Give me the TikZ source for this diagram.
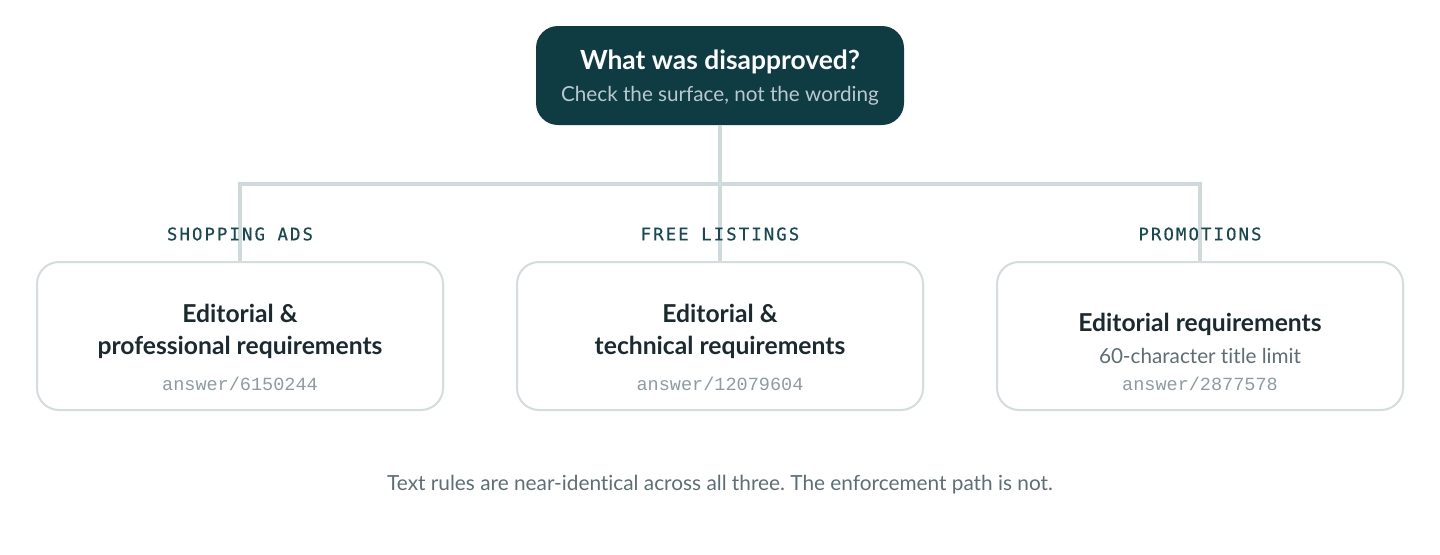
\documentclass[tikz,border=0pt]{standalone}
\usepackage{fontspec}
\setmainfont[Ligatures=NoCommon]{Lato}
\newfontfamily\labelfont[LetterSpace=12,FakeBold=0.6]{DejaVu Sans Mono}
\newfontfamily\ansfont{Liberation Mono}
\definecolor{topfill}{HTML}{0F3B43}
\definecolor{subtop}{HTML}{B8CACD}
\definecolor{labcol}{HTML}{174A52}
\definecolor{bodycol}{HTML}{1B2A30}
\definecolor{graycol}{HTML}{5D6E74}
\definecolor{anscol}{HTML}{8D9CA2}
\definecolor{linecol}{HTML}{CFDADD}
\definecolor{bordercol}{HTML}{D3DCDE}
\frenchspacing
\begin{document}
\begin{tikzpicture}[x=0.75pt,y=-0.75pt,
  topbox/.style={fill=topfill,draw=none,rounded corners=16.5pt,minimum width=276pt,minimum height=74.25pt,inner sep=0pt},
  card/.style={fill=white,draw=bordercol,line width=1.5pt,rounded corners=16.5pt,minimum width=304.5pt,minimum height=111pt,inner sep=0pt},
  conn/.style={draw=linecol,line width=2.3pt},
  ttl/.style={text=white,font=\fontsize{19.8}{24}\selectfont\bfseries,inner sep=0pt},
  subttl/.style={text=subtop,font=\fontsize{15.5}{18}\selectfont,inner sep=0pt},
  lab/.style={text=labcol,font=\labelfont\fontsize{13}{15}\selectfont,inner sep=0pt},
  body/.style={text=bodycol,font=\fontsize{18.5}{22}\selectfont\bfseries,inner sep=0pt},
  note/.style={text=graycol,font=\fontsize{15.5}{18}\selectfont,inner sep=0pt},
  ans/.style={text=anscol,font=\ansfont\fontsize{13.9}{16}\selectfont,inner sep=0pt},
  foot/.style={text=graycol,font=\fontsize{15.6}{18}\selectfont,inner sep=0pt}]
\useasboundingbox (0,0) rectangle (1440,554);
% cards and top box
\node[topbox] (top) at (720,75.5) {};
\node[card] (b1) at (240,336) {};
\node[card] (b2) at (720,336) {};
\node[card] (b3) at (1200,336) {};
% connectors
\coordinate (j) at (720,184);
\draw[conn] (top.south) -- (j);
\draw[conn] (b1.north) |- (j) -| (b3.north);
\draw[conn] (j) -- (b2.north);
% top texts
\node[ttl] (t1) at (720,61.5) {What was disapproved?};
\node[subttl] (t2) at (720,95.5) {Check the surface, not the wording};
% labels
\node[lab] (l1) at (240,234) {SHOPPING ADS};
\node[lab] (l2) at (720,234) {FREE LISTINGS};
\node[lab] (l3) at (1200,234) {PROMOTIONS};
% card 1
\node[body] (c1a) at (240,313.5) {Editorial \&};
\node[body] (c1b) at (240,347.5) {professional requirements};
\node[ans] (c1c) at (240,384) {answer/6150244};
% card 2
\node[body] (c2a) at (720,313.5) {Editorial \&};
\node[body] (c2b) at (720,347.5) {technical requirements};
\node[ans] (c2c) at (720,384) {answer/12079604};
% card 3
\node[body] (c3a) at (1200,324.5) {Editorial requirements};
\node[note] (c3b) at (1200,355.5) {60-character title limit};
\node[ans] (c3c) at (1200,384) {answer/2877578};
% footer
\node[foot] (f) at (720,484.5) {Text rules are near-identical across all three. The enforcement path is not.};
\end{tikzpicture}
\end{document}
